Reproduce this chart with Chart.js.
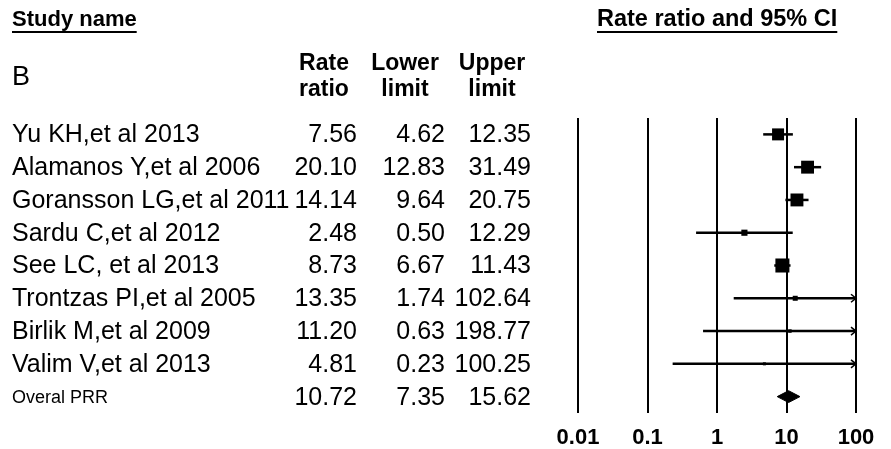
<!DOCTYPE html>
<html>
<head>
<meta charset="utf-8">
<script src="https://cdn.jsdelivr.net/npm/chart.js@4.4.1/dist/chart.umd.min.js"></script>
<style>
  html, body { margin: 0; padding: 0; background: #fff; }
  #wrap { width: 891px; height: 449px; }
</style>
</head>
<body>
<div id="wrap"><canvas id="forest" width="891" height="449"></canvas></div>
<script>
// study data
const studies = [
    'Yu KH,et al 2013',
    'Alamanos Y,et al 2006',
    'Goransson LG,et al 2011',
    'Sardu C,et al 2012',
    'See LC, et al 2013',
    'Trontzas PI,et al 2005',
    'Birlik M,et al 2009',
    'Valim V,et al 2013'
];
const rateRatio = [7.56, 20.10, 14.14, 2.48, 8.73, 13.35, 11.20, 4.81];
const lowerLimit = [4.62, 12.83, 9.64, 0.50, 6.67, 1.74, 0.63, 0.23];
const upperLimit = [12.35, 31.49, 20.75, 12.29, 11.43, 102.64, 198.77, 100.25];
// relative weights (box area)
const weights = [19, 22, 22, 5, 26, 3.3, 1.6, 1.2];

const pooledLabel = 'Overal PRR';
const pooled = { rate: 10.72, lower: 7.35, upper: 15.62 };

const xTicks = [0.01, 0.1, 1, 10, 100];
const xMin = 0.01;
const xMax = 100;

const FONT = '"Liberation Sans", Arial, sans-serif';
const pooledRow = studies.length;

// CI lines, one dataset each (clipped at the axis end, arrow drawn later)
const ciSets = studies.map((s, i) => ({
    label: s,
    showLine: true,
    data: [
        { x: lowerLimit[i], y: i },
        { x: Math.min(upperLimit[i], xMax), y: i }
    ],
    borderColor: '#000',
    borderWidth: 2.5,
    pointRadius: 0,
    fill: false
}));

// boxes sized by weight
const boxSet = {
    label: 'boxes',
    data: rateRatio.map((v, i) => ({ x: v, y: i })),
    pointStyle: 'rect',
    pointRadius: weights.map(w => 2.75 * Math.sqrt(w) / Math.SQRT2),
    pointBorderWidth: 0,
    backgroundColor: '#000',
    borderColor: '#000',
    showLine: false
};

// pooled diamond: upper half + lower half filled between
const dh = 0.18;
const diamondTop = {
    label: 'diamondTop',
    showLine: true,
    data: [
        { x: pooled.lower, y: pooledRow },
        { x: pooled.rate, y: pooledRow - dh },
        { x: pooled.upper, y: pooledRow }
    ],
    borderColor: '#000',
    borderWidth: 1,
    pointRadius: 0,
    fill: false
};
const diamondBottom = {
    label: 'diamondBottom',
    showLine: true,
    data: [
        { x: pooled.lower, y: pooledRow },
        { x: pooled.rate, y: pooledRow + dh },
        { x: pooled.upper, y: pooledRow }
    ],
    borderColor: '#000',
    borderWidth: 1,
    backgroundColor: '#000',
    pointRadius: 0,
    fill: '-1'
};

/**
 * Arrow heads where the CI runs past the axis
 */
const arrowPlugin = {
    id: 'arrows',
    afterDatasetsDraw(chart) {
        const ctx = chart.ctx;
        const xs = chart.scales.x;
        const ys = chart.scales.y;
        ctx.save();
        ctx.strokeStyle = '#000';
        ctx.lineWidth = 1.5;
        upperLimit.forEach((u, i) => {
            if (u <= xMax) return;
            const x = xs.getPixelForValue(xMax);
            const y = ys.getPixelForValue(i);
            ctx.beginPath();
            ctx.moveTo(x - 5, y - 4);
            ctx.lineTo(x, y);
            ctx.lineTo(x - 5, y + 4);
            ctx.stroke();
        });
        ctx.restore();
    }
};

/**
 * Study table and headings on the left
 */
const tablePlugin = {
    id: 'table',
    afterDraw(chart) {
        const ctx = chart.ctx;
        const ys = chart.scales.y;
        ctx.save();
        ctx.fillStyle = '#000';
        ctx.strokeStyle = '#000';
        ctx.textBaseline = 'middle';

        // underlined headings
        ctx.textAlign = 'left';
        [['Study name', 12, 22], ['Rate ratio and 95% CI', 597, 23.5]].forEach(([t, x, sz]) => {
            ctx.font = 'bold ' + sz + 'px ' + FONT;
            ctx.fillText(t, x, 20);
            const w = ctx.measureText(t).width;
            ctx.lineWidth = 2;
            ctx.beginPath();
            ctx.moveTo(x, 32);
            ctx.lineTo(x + w, 32);
            ctx.stroke();
        });

        ctx.font = '27px ' + FONT;
        ctx.fillText('B', 12, 78);

        // column headings
        ctx.font = 'bold 23px ' + FONT;
        ctx.textAlign = 'center';
        [['Rate', 'ratio', 324], ['Lower', 'limit', 405], ['Upper', 'limit', 492]].forEach(([a, b, x]) => {
            ctx.fillText(a, x, 64);
            ctx.fillText(b, x, 90);
        });

        // rows
        const colX = [357, 445, 531];
        const row = (name, nameFont, vals, i) => {
            const y = ys.getPixelForValue(i) + 1;
            ctx.textAlign = 'left';
            ctx.font = nameFont;
            ctx.fillText(name, 12, y);
            ctx.font = '25px ' + FONT;
            ctx.textAlign = 'right';
            vals.forEach((v, k) => ctx.fillText(v.toFixed(2), colX[k], y));
        };
        studies.forEach((s, i) => {
            row(s, '25px ' + FONT, [rateRatio[i], lowerLimit[i], upperLimit[i]], i);
        });
        row(pooledLabel, '18px ' + FONT, [pooled.rate, pooled.lower, pooled.upper], pooledRow);

        ctx.restore();
    }
};

new Chart(document.getElementById('forest'), {
    type: 'scatter',
    data: { datasets: [...ciSets, boxSet, diamondTop, diamondBottom] },
    options: {
        responsive: false,
        animation: false,
        events: [],
        layout: { padding: { left: 578, right: 35, top: 118, bottom: 0 } },
        plugins: {
            legend: { display: false },
            tooltip: { enabled: false }
        },
        scales: {
            x: {
                type: 'logarithmic',
                min: xMin,
                max: xMax,
                afterBuildTicks: scale => {
                    scale.ticks = xTicks.map(v => ({ value: v }));
                },
                afterFit: scale => {
                    scale.height = 36;
                },
                grid: { color: '#000', lineWidth: 2, drawTicks: false },
                border: { display: false },
                ticks: {
                    color: '#000',
                    padding: 12,
                    autoSkip: false,
                    maxRotation: 0,
                    font: { family: FONT, size: 22, weight: 'bold' },
                    callback: value => String(value)
                }
            },
            y: {
                type: 'linear',
                min: -0.5,
                max: studies.length + 0.5,
                reverse: true,
                display: false
            }
        }
    },
    plugins: [arrowPlugin, tablePlugin]
});
</script>
</body>
</html>
